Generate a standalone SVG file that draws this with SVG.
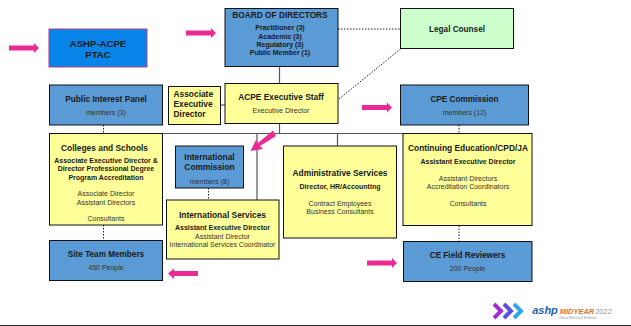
<svg xmlns="http://www.w3.org/2000/svg" width="631" height="326" viewBox="0 0 631 326">
<style>
text{font-family:"Liberation Sans",Arial,sans-serif;text-anchor:middle;fill:#1a1a1a}
.b{stroke:#111;stroke-width:1}
.blue{fill:#5b9bd5}
.yel{fill:#ffff99}
.t{font-weight:bold;font-size:8.400px}
.s{font-weight:bold;font-size:7px}
.n{font-size:7px;fill:#333}
.line{stroke:#555;stroke-width:1.200;fill:none}
.dash{stroke:#222;stroke-width:1;stroke-dasharray:1.500 1.500;fill:none}
.arrow{fill:#ec2a95}
</style>
<rect width="631" height="326" fill="#fff"/>
<g id="connectors">
<path class="line" d="M279.500 66V84M279.500 124V133.500M162 133.500H403M257 133.500V200M337.500 133.500V146"/>
<path class="line" d="M221 105H225"/>
<path class="dash" d="M338 29H400.500M339 99L400.500 49M103.500 125V133.500M103.500 225V240.500M459 125V133.500M459 225.500V241.500M208.500 188V200"/>
</g>
<g id="ptac"><rect x="49" y="29" width="98" height="38" fill="#0984e8" stroke="#b0408c"/>
<text x="98" y="47" font-size="9.600" font-weight="bold">ASHP-ACPE</text><text x="98" y="58" font-size="9.600" font-weight="bold">PTAC</text></g>
<g id="board"><rect class="b blue" x="225" y="8.500" width="113" height="58"/>
<text class="s" x="280" y="18" style="font-size:8.300px">BOARD OF DIRECTORS</text>
<text class="s" x="280" y="30">Practitioner (3)</text><text class="s" x="280" y="39">Academic (3)</text><text class="s" x="280" y="47">Regulatory (3)</text><text class="s" x="280" y="55">Public Member (1)</text></g>
<g id="legal"><rect class="b" fill="#ccffcc" x="400.500" y="8.500" width="113" height="40"/>
<text class="s" x="457" y="32" style="font-size:8.200px">Legal Counsel</text></g>
<g id="public-panel"><rect class="b blue" x="49.500" y="85" width="113" height="40"/>
<text class="s" x="106" y="102" style="font-size:8.300px">Public Interest Panel</text><text class="n" x="106" y="115">members (3)</text></g>
<g id="associate"><rect class="b yel" x="168.500" y="86.500" width="52" height="38"/>
<text class="t" x="173.500" y="97" style="text-anchor:start">Associate</text><text class="t" x="173.500" y="107" style="text-anchor:start">Executive</text><text class="t" x="173.500" y="117" style="text-anchor:start">Director</text></g>
<g id="exec-staff"><rect class="b yel" x="225" y="83.500" width="113" height="40"/>
<text class="t" x="281" y="100">ACPE Executive Staff</text><text class="n" x="281" y="113">Executive Director</text></g>
<g id="cpe"><rect class="b blue" x="400.500" y="85" width="128" height="40"/>
<text class="s" x="464.500" y="102" style="font-size:8.200px">CPE Commission</text><text class="n" x="464.500" y="115">members (12)</text></g>
<g id="colleges"><rect class="b yel" x="49.500" y="133.500" width="113" height="91.500"/>
<text class="t" x="104.500" y="151">Colleges and Schools</text>
<text class="s" x="106" y="163">Associate Executive Director &amp;</text><text class="s" x="106" y="171">Director Professional Degree</text><text class="s" x="106" y="180">Program Accreditation</text>
<text class="n" x="106" y="196">Associate Director</text><text class="n" x="106" y="205">Assistant Directors</text><text class="n" x="106" y="221">Consultants</text></g>
<g id="int-commission"><rect class="b blue" x="175.500" y="146" width="68" height="42"/>
<text class="t" x="209.500" y="160">International</text><text class="t" x="209.500" y="170">Commission</text><text class="n" x="209.500" y="184">members (8)</text></g>
<g id="int-services"><rect class="b yel" x="166.500" y="200" width="112.500" height="59"/>
<text class="t" x="222.500" y="218">International Services</text><text class="s" x="222.500" y="230">Assistant Executive Director</text><text class="n" x="222.500" y="239">Assistant Director</text><text class="n" x="222.500" y="247">International Services Coordinator</text></g>
<g id="admin"><rect class="b yel" x="283.500" y="146" width="113" height="92"/>
<text class="t" x="340" y="176">Administrative Services</text><text class="s" x="340" y="189">Director, HR/Accounting</text><text class="n" x="340" y="206">Contract Employees</text><text class="n" x="340" y="214">Business Consultants</text></g>
<g id="ce"><rect class="b yel" x="403" y="133.500" width="129" height="92"/>
<text class="t" x="468" y="151">Continuing Education/CPD/JA</text><text class="s" x="468" y="164">Assistant Executive Director</text><text class="n" x="468" y="181">Assistant Directors</text><text class="n" x="468" y="189">Accreditation Coordinators</text><text class="n" x="468" y="206">Consultants</text></g>
<g id="site-team"><rect class="b blue" x="49.500" y="240.500" width="113" height="40"/>
<text class="s" x="106" y="257" style="font-size:8.200px">Site Team Members</text><text class="n" x="106" y="270">450 People</text></g>
<g id="field-reviewers"><rect class="b blue" x="403.500" y="241.500" width="128.500" height="40"/>
<text class="s" x="467.500" y="258" style="font-size:8.200px">CE Field Reviewers</text><text class="n" x="467.500" y="271">200 People</text></g>
<g id="pink-arrows" class="arrow">
<path d="M9 45.500H34V43L39 48L34 53V50.500H9Z"/>
<path d="M186 30.500H211V28L216 33L211 38V35.500H186Z"/>
<path d="M362 105H387V102.500L392 107.500L387 112.500V110H362Z"/>
<path d="M367 260.500H392V258L397 263L392 268V265.500H367Z"/>
<path d="M198 271H174V268.500L168 273.500L174 279V276H198Z"/>
<path d="M273 130.500L276 136L260 146L263 149L250.500 151L256 140L258 143Z"/>
</g>
<g id="logo">
<path d="M494 304L501 311L494 318" fill="none" stroke="#a030d0" stroke-width="4"/>
<path d="M504 304L511 311L504 318" fill="none" stroke="#5a50e0" stroke-width="4"/>
<path d="M514 304L521 311L514 318" fill="none" stroke="#30a8e8" stroke-width="4"/>
<text x="545" y="314" font-size="11" font-weight="bold" font-style="italic" style="fill:#1c5fb0">ashp</text>
<text x="577" y="314" font-size="7.500" font-weight="bold" font-style="italic" style="fill:#e8702a">MIDYEAR</text>
<text x="603.500" y="314" font-size="7.500" style="fill:#999">2022</text>
<text x="578" y="318.500" font-size="3" style="fill:#999">Clinical Meeting &amp; Exhibition</text>
</g>
<path d="M0 325.500H631" stroke="#222" stroke-width="1"/>
</svg>
